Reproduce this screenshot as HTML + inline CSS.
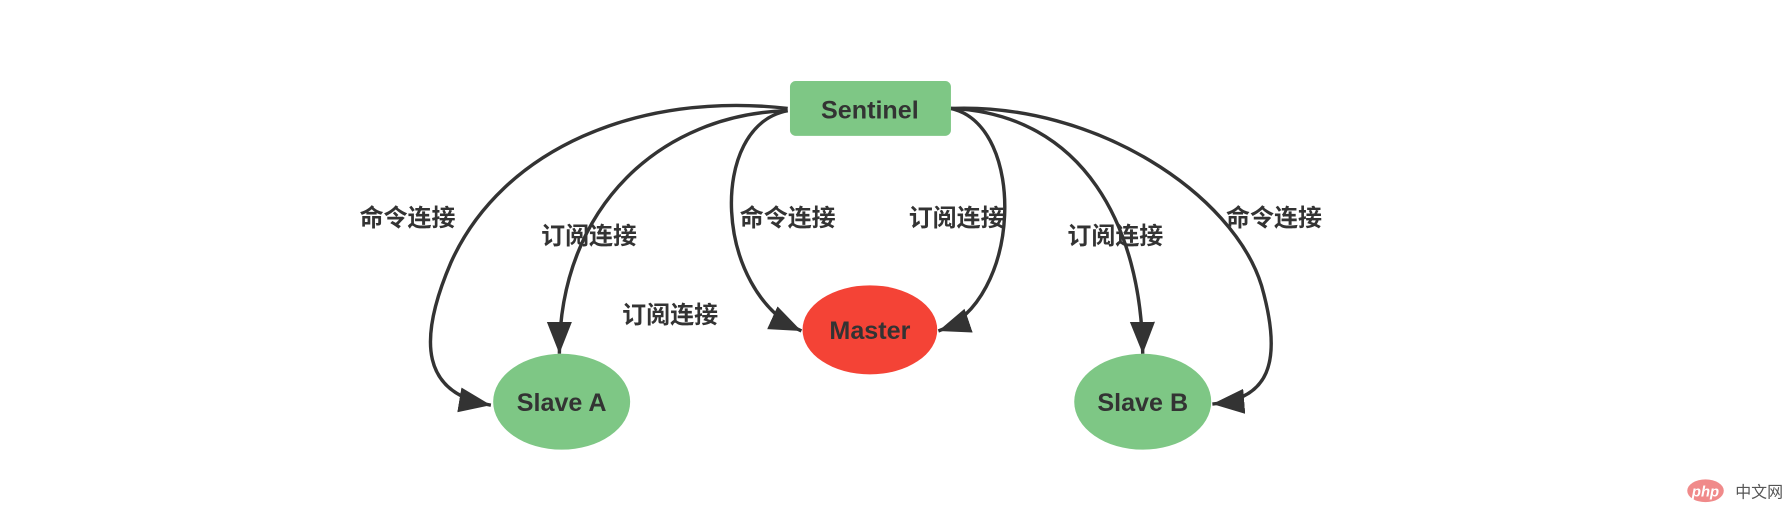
<!DOCTYPE html>
<html><head><meta charset="utf-8"><style>
html,body{margin:0;padding:0;background:#fff;}
svg{display:block;}
text{font-family:"Liberation Sans","Noto Sans CJK SC",sans-serif;font-weight:bold;fill:#333;}
</style></head><body>
<svg width="1790" height="525" viewBox="0 0 1568 460" preserveAspectRatio="none">
<defs>
<marker id="a" markerUnits="userSpaceOnUse" markerWidth="32" markerHeight="24" refX="28" refY="11" orient="auto">
<path d="M0,0 L28,11 L0,22 Z" fill="#333"/>
</marker>
</defs>
<g fill="none" stroke="#333" stroke-width="3">
<path d="M690,95 C560,80 440,130 395,230 C365,300 370,345 430,355" marker-end="url(#a)"/>
<path d="M690,97 C580,100 490,180 490,310" marker-end="url(#a)"/>
<path d="M690,97 C620,110 625,255 702,290" marker-end="url(#a)"/>
<path d="M833,95 C900,110 895,265 822,290" marker-end="url(#a)"/>
<path d="M833,95 C950,100 1000,200 1001,310" marker-end="url(#a)"/>
<path d="M833,95 C960,90 1080,170 1105,250 C1125,320 1110,350 1062,354" marker-end="url(#a)"/>
</g>
<rect x="692" y="71" width="141" height="48" rx="5" fill="#7ec785"/>
<text x="762" y="104" font-size="22" text-anchor="middle">Sentinel</text>
<ellipse cx="762" cy="289" rx="59" ry="39" fill="#f44336"/>
<text x="762" y="297" font-size="22" text-anchor="middle">Master</text>
<ellipse cx="492" cy="352" rx="60" ry="42" fill="#7ec785"/>
<text x="492" y="360" font-size="22" text-anchor="middle">Slave A</text>
<ellipse cx="1001" cy="352" rx="60" ry="42" fill="#7ec785"/>
<text x="1001" y="360" font-size="22" text-anchor="middle">Slave B</text>
<g font-size="21" text-anchor="middle">
<text x="357" y="198">命令连接</text>
<text x="516" y="214">订阅连接</text>
<text x="587" y="283">订阅连接</text>
<text x="690" y="198">命令连接</text>
<text x="838" y="198">订阅连接</text>
<text x="977" y="214">订阅连接</text>
<text x="1116" y="198">命令连接</text>
</g>
<ellipse cx="1494" cy="430" rx="16" ry="10" fill="#f08a8a"/>
<text x="1494" y="435" font-size="13" text-anchor="middle" style="fill:#fff;font-style:italic">php</text>
<text x="1520" y="436" font-size="14" style="fill:#555;font-weight:normal">中文网</text>
</svg>
</body></html>
